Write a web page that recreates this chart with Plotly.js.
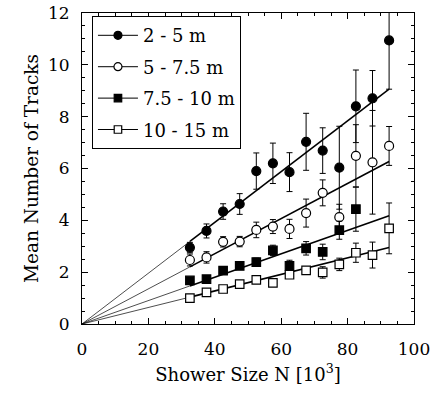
<!DOCTYPE html>
<html>
<head>
<meta charset="utf-8">
<script src="https://cdn.plot.ly/plotly-3.0.1.min.js"></script>
<style>html,body{margin:0;padding:0;background:#fff;}#chart{width:435px;height:396px;}</style>
</head>
<body>
<div id="chart"></div>
<script>
// Shower size bins [10^3]
var showerSize = [32.5, 37.5, 42.5, 47.5, 52.5, 57.5, 62.5, 67.5, 72.5, 77.5, 82.5, 87.5, 92.5];

// 2 - 5 m
var tracks2to5 = [2.95, 3.59, 4.34, 4.63, 5.90, 6.20, 5.86, 7.03, 6.69, 6.03, 8.40, 8.71, 10.94];
var err2to5    = [0.20, 0.27, 0.30, 0.40, 0.70, 0.78, 0.75, 1.10, 0.88, 1.60, 1.40, 1.07, 1.88];

// 5 - 7.5 m
var tracks5to75 = [2.47, 2.57, 3.17, 3.18, 3.63, 3.76, 3.67, 4.28, 5.06, 4.12, 6.49, 6.24, 6.87];
var err5to75    = [0.23, 0.22, 0.20, 0.20, 0.30, 0.27, 0.37, 0.54, 0.50, 0.50, 1.20, 2.00, 0.75];

// 7.5 - 10 m
var tracks75to10 = [1.68, 1.73, 2.06, 2.24, 2.39, 2.84, 2.24, 2.92, 2.78, 3.62, 4.43, null, null];
var err75to10    = [0.10, 0.10, 0.12, 0.12, 0.15, 0.20, 0.22, 0.26, 0.30, 0.35, 0.85, null, null];

// 10 - 15 m
var tracks10to15 = [1.00, 1.22, 1.35, 1.54, 1.70, 1.59, 1.90, 2.07, 1.99, 2.30, 2.75, 2.66, 3.69];
var err10to15    = [0.06, 0.08, 0.08, 0.10, 0.10, 0.10, 0.14, 0.12, 0.22, 0.24, 0.37, 0.50, 0.98];

// proportional fits (tracks per 10^3 particles)
var seriesNames = ['2 - 5 m', '5 - 7.5 m', '7.5 - 10 m', '10 - 15 m'];
var fitSlopes = [0.098, 0.0678, 0.0452, 0.0319];
var fitStart = 32.5, fitEnd = 92.5;

var seriesY = [tracks2to5, tracks5to75, tracks75to10, tracks10to15];
var seriesErr = [err2to5, err5to75, err75to10, err10to15];
var markerSymbols = ['circle', 'circle', 'square', 'square'];
var markerFill = ['#000', '#fff', '#000', '#fff'];
var markerSizes = [9, 9, 8.5, 8.5];

var traces = [];
for (var i = 0; i < 4; i++) {
  var s = fitSlopes[i];
  traces.push({x: [0, fitStart], y: [0, s * fitStart], mode: 'lines', type: 'scatter',
    line: {color: '#000', width: 0.7}, showlegend: false, hoverinfo: 'skip'});
  traces.push({x: [fitStart, fitEnd], y: [s * fitStart, s * fitEnd], mode: 'lines', type: 'scatter',
    line: {color: '#000', width: 1.6}, showlegend: false, hoverinfo: 'skip'});
}
for (var i = 0; i < 4; i++) {
  traces.push({
    x: showerSize, y: seriesY[i], type: 'scatter', mode: 'markers', showlegend: false,
    marker: {symbol: markerSymbols[i], size: markerSizes[i], color: markerFill[i],
      line: {color: '#000', width: 1.2}},
    error_y: {type: 'data', array: seriesErr[i], visible: true, color: '#000', thickness: 1, width: 3}
  });
}
for (var i = 0; i < 4; i++) {
  traces.push({
    x: [null], y: [null], type: 'scatter', mode: 'lines+markers', name: seriesNames[i],
    legendgroup: 'g' + i,
    line: {color: '#000', width: 1},
    marker: {symbol: markerSymbols[i], size: markerSizes[i] - 1, color: markerFill[i],
      line: {color: '#000', width: 1.2}}
  });
}

var fontFam = 'DejaVu Serif, serif';
var layout = {
  width: 435, height: 396,
  margin: {l: 82, r: 21, t: 13, b: 72},
  paper_bgcolor: '#fff', plot_bgcolor: '#fff',
  font: {family: fontFam, color: '#000', size: 17},
  showlegend: true,
  legend: {x: 0.03, y: 0.99, xanchor: 'left', yanchor: 'top', bordercolor: '#000', borderwidth: 1,
    bgcolor: '#fff', font: {family: fontFam, size: 18, color: '#000'}, tracegroupgap: 5,
    itemwidth: 40},
  xaxis: {
    range: [0, 100], dtick: 20, tick0: 0, showgrid: false, zeroline: false,
    showline: true, linecolor: '#000', linewidth: 1, mirror: 'allticks',
    ticks: 'inside', ticklen: 6, tickcolor: '#000', tickwidth: 1,
    minor: {dtick: 5, ticks: 'inside', ticklen: 3, tickcolor: '#000', showgrid: false},
    tickfont: {family: fontFam, size: 17}, ticklabelstandoff: 10,
    title: {text: 'Shower Size N [10<sup>3</sup>]', font: {family: fontFam, size: 18}, standoff: 9}
  },
  yaxis: {
    range: [0, 12], dtick: 2, tick0: 0, showgrid: false, zeroline: false,
    showline: true, linecolor: '#000', linewidth: 1, mirror: 'allticks',
    ticks: 'inside', ticklen: 6, tickcolor: '#000', tickwidth: 1,
    minor: {dtick: 0.5, ticks: 'inside', ticklen: 3, tickcolor: '#000', showgrid: false},
    tickfont: {family: fontFam, size: 17}, ticklabelstandoff: 8,
    title: {text: 'Mean Number of Tracks', font: {family: fontFam, size: 18.5}, standoff: 4}
  }
};

Plotly.newPlot('chart', traces, layout, {displayModeBar: false, staticPlot: true});
</script>
</body>
</html>
